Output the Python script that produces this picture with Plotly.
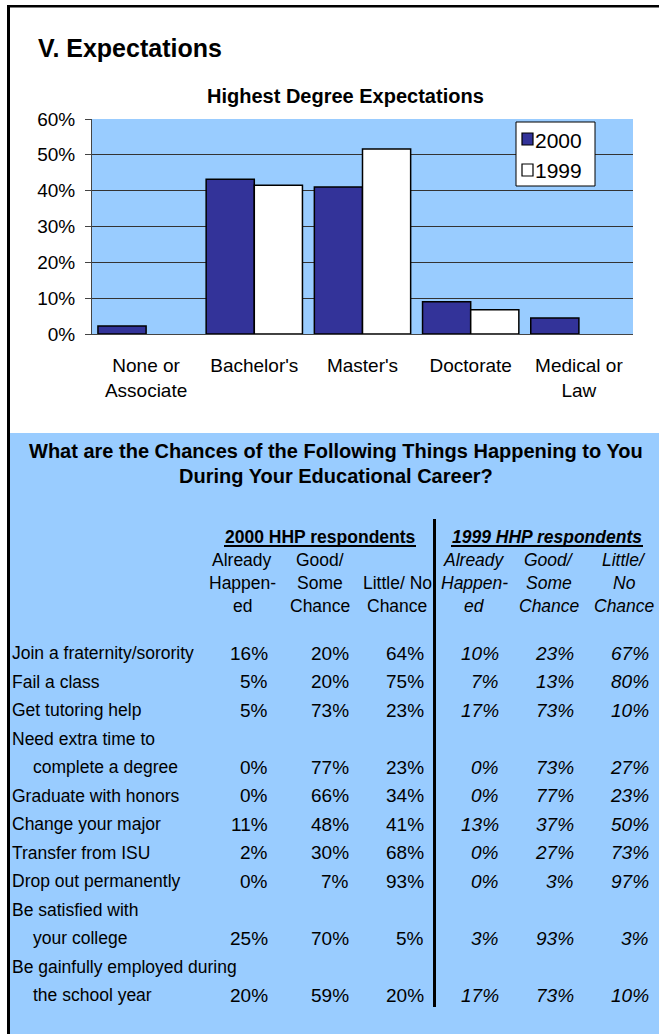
import plotly.graph_objects as go

# ---------------- data ----------------
categories = ["None or<br>Associate", "Bachelor's", "Master's", "Doctorate", "Medical or<br>Law"]
pct_2000 = [0.022, 0.432, 0.410, 0.090, 0.045]
pct_1999 = [None, 0.415, 0.516, 0.068, None]
y_tick_vals = [0, 0.1, 0.2, 0.3, 0.4, 0.5, 0.6]

row_labels = [
    ["Join a fraternity/sorority"],
    ["Fail a class"],
    ["Get tutoring help"],
    ["Need extra time to", "complete a degree"],
    ["Graduate with honors"],
    ["Change your major"],
    ["Transfer from ISU"],
    ["Drop out permanently"],
    ["Be satisfied with", "your college"],
    ["Be gainfully employed during", "the school year"],
]
y2000_already = [16, 5, 5, 0, 0, 11, 2, 0, 25, 20]
y2000_good = [20, 20, 73, 77, 66, 48, 30, 7, 70, 59]
y2000_little = [64, 75, 23, 23, 34, 41, 68, 93, 5, 20]
y1999_already = [10, 7, 17, 0, 0, 13, 0, 0, 3, 17]
y1999_good = [23, 13, 73, 73, 77, 37, 27, 3, 93, 73]
y1999_little = [67, 80, 10, 27, 23, 50, 73, 97, 3, 10]

head_2000 = [["Already", "Happen-", "ed"], ["Good/", "Some", "Chance"], ["", "Little/ No", "Chance"]]
head_1999 = [["Already", "Happen-", "ed"], ["Good/", "Some", "Chance"], ["Little/", "No", "Chance"]]

# ---------------- helpers ----------------
W, H = 659, 1034
def px(x):
    return x / W
def py(y):
    return 1 - y / H

NAVY = "#333399"
BLUE = "#99CCFF"
FONT = "Liberation Sans, Arial"

fig = go.Figure()
fig.add_bar(x=categories, y=pct_2000, name="2000", showlegend=False,
            marker=dict(color=NAVY, line=dict(color="black", width=1.5)))
fig.add_bar(x=categories, y=pct_1999, name="1999", showlegend=False,
            marker=dict(color="white", line=dict(color="black", width=1.5)))

shapes = []
annotations = []

def rect(x0, y0, x1, y1, fill, layer="below", line=None):
    d = dict(type="rect", xref="paper", yref="paper",
             x0=px(x0), x1=px(x1), y0=py(y1), y1=py(y0),
             fillcolor=fill, layer=layer,
             line=line if line else dict(width=0))
    shapes.append(d)

def text(x, y, s, size, anchor="left", bold=False, italic=False):
    if bold:
        s = "<b>" + s + "</b>"
    if italic:
        s = "<i>" + s + "</i>"
    annotations.append(dict(x=px(x), y=py(y), xref="paper", yref="paper", text=s,
                            showarrow=False, xanchor=anchor, yanchor="middle",
                            borderpad=0, borderwidth=0,
                            font=dict(family=FONT, size=size, color="black")))

# page frame and table background
rect(10, 433, 659, 1034, BLUE)
rect(7, 5, 659, 7.5, "black", layer="above")
rect(7, 5, 10, 1034, "black", layer="above")

# titles
text(38, 48, "V. Expectations", 25, bold=True)
text(345.5, 96, "Highest Degree Expectations", 20, anchor="center", bold=True)

# legend (manual)
rect(516, 122, 595, 186, "white", layer="above", line=dict(color="black", width=1))
rect(522, 133, 533, 145, NAVY, layer="above", line=dict(color="black", width=1.2))
rect(522, 164, 533, 176, "white", layer="above", line=dict(color="black", width=1.2))
text(535, 140, "2000", 21)
text(535, 171, "1999", 21)

# table title
text(336, 451, "What are the Chances of the Following Things Happening to You", 20, anchor="center", bold=True)
text(336, 476, "During Your Educational Career?", 20, anchor="center", bold=True)

# group headers
text(320, 537, "2000 HHP respondents", 17.5, anchor="center", bold=True)
text(547, 537, "1999 HHP respondents", 17.5, anchor="center", bold=True, italic=True)
rect(224, 545, 416, 547, "black", layer="above")
rect(451, 545, 643, 547, "black", layer="above")

# divider
rect(433, 519, 436, 1007, "black", layer="above")

# column headers
hdr_y = [560, 583, 606]
cx2000 = [242, 320, 397]
cx1999 = [474, 549, 624]
for ci, col in enumerate(head_2000):
    for li, s in enumerate(col):
        if s:
            text(cx2000[ci], hdr_y[li], s, 17.5, anchor="center")
for ci, col in enumerate(head_1999):
    for li, s in enumerate(col):
        if s:
            text(cx1999[ci], hdr_y[li], s, 17.5, anchor="center", italic=True)

# rows
right2000 = [268, 349, 424]
right1999 = [499, 574, 649]
line_y0 = 653
step = 28.5
line_i = 0
for r, lab in enumerate(row_labels):
    for k, s in enumerate(lab):
        text(12 if k == 0 else 33, line_y0 + (line_i + k) * step, s, 17.5)
    vy = line_y0 + (line_i + len(lab) - 1) * step
    for c, arr in enumerate([y2000_already, y2000_good, y2000_little]):
        text(right2000[c], vy, f"{arr[r]}%", 19, anchor="right")
    for c, arr in enumerate([y1999_already, y1999_good, y1999_little]):
        text(right1999[c], vy, f"{arr[r]}%", 19, anchor="right", italic=True)
    line_i += len(lab)

fig.update_layout(
    width=W, height=H, autosize=False,
    margin=dict(l=0, r=0, t=0, b=0, pad=0, autoexpand=False),
    paper_bgcolor="white",
    plot_bgcolor=BLUE,
    barmode="group", bargap=0.11, bargroupgap=0,
    shapes=shapes, annotations=annotations,
    showlegend=False,
    xaxis=dict(domain=[px(92), px(633)], showline=True, linecolor="#444", linewidth=1,
               ticks="", showgrid=False, ticklabelstandoff=14, automargin=False,
               tickfont=dict(family=FONT, size=19, color="black")),
    yaxis=dict(domain=[py(334), py(119)], range=[0, 0.6], tickvals=y_tick_vals,
               tickformat=".0%", showgrid=True, gridcolor="#333", gridwidth=1,
               showline=True, linecolor="#444", linewidth=1, zeroline=False,
               ticks="outside", ticklen=6, tickcolor="#444", ticklabelstandoff=6,
               automargin=False,
               tickfont=dict(family=FONT, size=19, color="black")),
)

fig.write_html("out.html",
               config={"displayModeBar": False, "responsive": False},
               post_script="document.body.style.margin='0';")
